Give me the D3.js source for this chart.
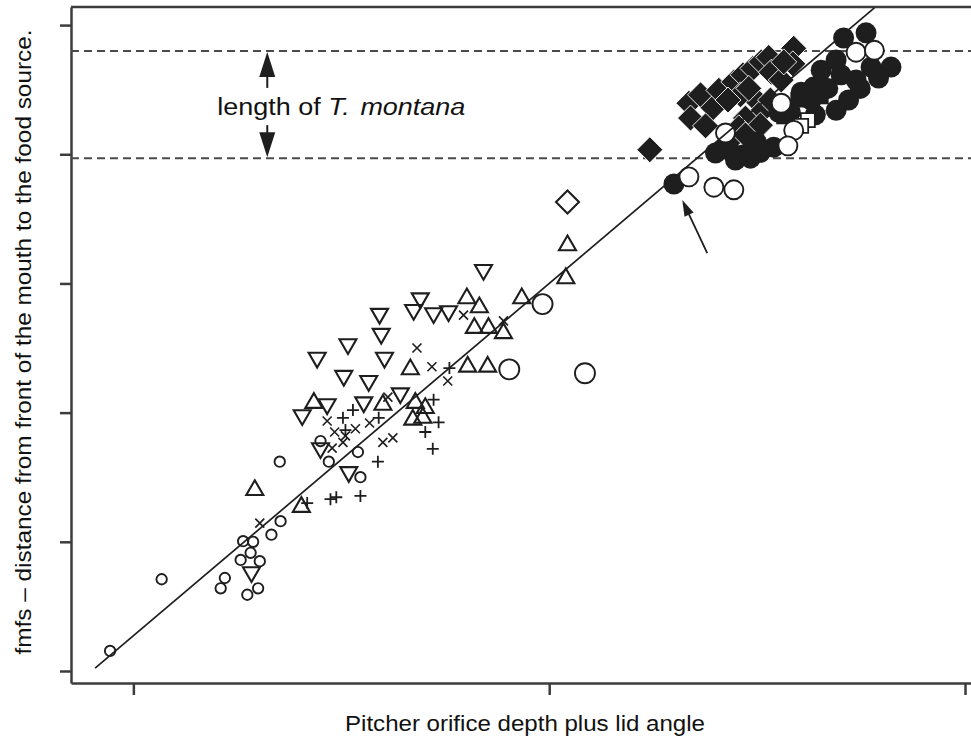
<!DOCTYPE html>
<html>
<head>
<meta charset="utf-8">
<script src="https://cdn.jsdelivr.net/npm/d3@7"></script>
<style>
  body { margin: 0; background: #fff; }
  svg { display: block; }
  text { font-family: "Liberation Sans", Arial, sans-serif; fill: #111; }
</style>
</head>
<body>
<svg id="canvas" width="971" height="737"></svg>
<script>
// axis ticks (no labels on the original)
const xTicks = [0, 50, 100]
const yTicks = [0, 20, 40, 60, 80, 100]

// dashed band = body length of T. montana
const lengthBand = [79.4, 96.0]

// fitted line y = a + b*x
const fitA = 5.45
const fitB = 1.091
const fitRange = [-4.6, 89.1]

// series, [x, y]
const smallOpenCircles = [
  [-2.8, 3.1], [3.4, 14.2], [10.5, 12.8], [11.0, 14.4], [13.7, 11.8], [15.0, 12.8],
  [13.2, 20.1], [14.4, 20.0], [12.9, 17.2], [14.1, 18.3], [15.2, 17.0], [16.6, 21.1],
  [17.7, 23.2], [17.6, 32.4], [22.5, 35.6], [23.5, 32.4], [27.0, 33.9], [27.3, 30.0]
]
const triUp = [
  [14.6, 28.0], [20.2, 25.4], [21.7, 41.5], [30.0, 41.2], [33.3, 46.7], [33.9, 41.5],
  [35.1, 40.7], [33.6, 38.9], [34.8, 39.2], [40.2, 47.1], [42.6, 47.1], [40.1, 57.7],
  [41.6, 56.3], [41.0, 53.1], [42.7, 53.1], [44.5, 52.3], [46.7, 57.7], [52.0, 60.8],
  [52.2, 65.9]
]
const triDown = [
  [42.1, 62.1], [34.5, 57.7], [33.7, 55.9], [36.1, 55.4], [37.9, 55.7], [29.6, 55.3],
  [29.8, 52.2], [25.8, 50.6], [22.1, 48.5], [30.2, 48.5], [25.3, 45.7], [28.3, 44.9],
  [32.1, 43.0], [20.3, 39.6], [23.3, 41.3], [27.7, 41.6], [22.5, 34.5], [25.9, 30.8],
  [14.2, 15.3]
]
const crosses = [
  [15.2, 22.9], [39.7, 55.1], [44.5, 54.2], [34.1, 50.0], [35.9, 47.1], [37.8, 44.9],
  [30.6, 42.4], [23.3, 38.7], [24.2, 37.0], [26.7, 37.5], [28.4, 38.4], [25.2, 35.4],
  [23.9, 34.5], [30.0, 35.4], [31.2, 36.1], [25.5, 36.4]
]
const pluses = [
  [26.4, 40.4], [25.2, 39.2], [25.5, 37.3], [36.1, 42.0], [36.7, 38.5], [35.1, 37.0],
  [36.0, 34.4], [29.4, 32.4], [38.0, 46.9], [27.3, 27.1], [23.7, 26.6], [24.4, 26.9],
  [20.9, 26.0], [29.5, 39.2]
]
const bigOpenCircles = [
  [49.2, 56.8], [45.2, 46.7], [54.3, 46.1], [66.8, 76.5], [69.8, 74.9], [72.2, 74.5],
  [71.2, 83.3], [77.9, 87.9], [79.4, 83.7], [78.7, 81.3], [86.9, 95.8], [89.1, 96.1]
]
const openDiamonds = [[52.2, 72.6]]
const filledDiamonds = [
  [62.1, 80.7], [66.8, 87.9], [67.0, 85.6], [68.2, 89.2], [69.7, 87.2], [70.4, 89.9],
  [72.2, 91.2], [73.3, 92.3], [74.5, 93.3], [75.5, 94.3], [76.4, 95.0], [76.7, 92.7],
  [77.9, 91.5], [79.4, 96.4], [79.3, 94.0], [74.9, 88.4], [75.7, 86.8], [73.6, 85.6],
  [72.8, 84.1], [71.6, 81.9], [73.0, 89.2], [68.8, 84.4], [71.5, 88.4], [74.0, 90.2],
  [78.2, 94.3], [76.6, 88.4], [75.4, 84.5], [73.6, 83.0]
]
const filledCircles = [
  [65.0, 75.4], [70.0, 80.2], [71.6, 80.7], [73.3, 79.9], [74.9, 81.9], [77.0, 81.1],
  [77.6, 86.5], [80.3, 89.6], [81.8, 90.4], [83.5, 90.2], [85.1, 92.3], [86.0, 88.4],
  [84.5, 86.8], [88.7, 93.5], [91.1, 93.5], [85.4, 98.0], [88.1, 98.8], [86.9, 91.5],
  [82.7, 93.0], [84.5, 94.6], [81.5, 88.4], [75.4, 80.3], [79.0, 86.5], [82.0, 86.1],
  [87.4, 90.2], [89.6, 91.8], [72.4, 79.1], [74.2, 79.4]
]
const filledSquares = [[78.2, 85.8], [82.7, 88.9], [70.9, 80.7], [79.9, 88.4]]
const openSquares = [[81.1, 85.3], [80.3, 84.4], [70.9, 88.4]]

let canvas = d3.select('#canvas')

let x = d3.scaleLinear().domain([-7.5, 101.2]).range([71, 975])
let y = d3.scaleLinear().domain([-1.86, 102.8]).range([683, 7])

const axisColor = '#3c3c3c'
const ink = '#1e1e1e'

// frame: top line
canvas.append('line')
    .attr('x1', x(-7.5)).attr('x2', x(101.2))
    .attr('y1', y(102.8)).attr('y2', y(102.8))
    .attr('stroke', axisColor).attr('stroke-width', 2.5)

let yAxis = canvas.append('g')
    .attr('transform', 'translate(' + x(-7.5) + ',0)')
    .call(d3.axisLeft(y).tickValues(yTicks).tickFormat('').tickSize(11).tickSizeOuter(0))
let xAxis = canvas.append('g')
    .attr('transform', 'translate(0,' + y(-1.86) + ')')
    .call(d3.axisBottom(x).tickValues(xTicks).tickFormat('').tickSize(12).tickSizeOuter(0))
canvas.selectAll('.domain, .tick line')
    .attr('stroke', axisColor).attr('stroke-width', 2.5)

// dashed band lines
canvas.selectAll('line.band')
    .data(lengthBand)
    .enter()
    .append('line')
    .attr('class', 'band')
    .attr('x1', x(-7.5)).attr('x2', x(101.2))
    .attr('y1', d => y(d)).attr('y2', d => y(d))
    .attr('stroke', '#4a4a4a').attr('stroke-width', 2)
    .attr('stroke-dasharray', '8,5')

// marker shapes
function triPath(s, down) {
    let h = s * 0.866
    let k = down ? -1 : 1
    return 'M0,' + (-k * 2 * h / 3) + 'L' + (s / 2) + ',' + (k * h / 3) + 'L' + (-s / 2) + ',' + (k * h / 3) + 'Z'
}
function diamondPath(r) {
    return 'M0,' + (-r) + 'L' + r + ',0L0,' + r + 'L' + (-r) + ',0Z'
}
function squarePath(s) {
    return 'M' + (-s / 2) + ',' + (-s / 2) + 'h' + s + 'v' + s + 'h' + (-s) + 'Z'
}
function crossPath(a) {
    return 'M' + (-a) + ',' + (-a) + 'L' + a + ',' + a + 'M' + (-a) + ',' + a + 'L' + a + ',' + (-a)
}
function plusPath(a) {
    return 'M' + (-a) + ',0L' + a + ',0M0,' + (-a) + 'L0,' + a
}

function drawPaths(data, d, fill, stroke, sw) {
    canvas.append('g')
        .selectAll('path')
        .data(data)
        .enter()
        .append('path')
        .attr('transform', p => 'translate(' + x(p[0]) + ',' + y(p[1]) + ')')
        .attr('d', d)
        .attr('fill', fill)
        .attr('stroke', stroke)
        .attr('stroke-width', sw)
}
function drawCircles(data, r, fill, stroke, sw) {
    canvas.append('g')
        .selectAll('circle')
        .data(data)
        .enter()
        .append('circle')
        .attr('cx', p => x(p[0]))
        .attr('cy', p => y(p[1]))
        .attr('r', r)
        .attr('fill', fill)
        .attr('stroke', stroke)
        .attr('stroke-width', sw)
}

drawCircles(smallOpenCircles, 5.2, 'none', ink, 1.9)
drawPaths(triUp, triPath(17, false), 'none', ink, 2.1)
drawPaths(triDown, triPath(17, true), 'none', ink, 2.1)
drawPaths(crosses, crossPath(4.5), 'none', ink, 1.6)
drawPaths(pluses, plusPath(6), 'none', ink, 1.8)
drawCircles(bigOpenCircles.slice(0, 3), 10, 'none', ink, 1.9)
drawPaths(openDiamonds, diamondPath(11.5), 'none', ink, 2.1)

// upper cluster (one open square sits under the diamonds)
drawPaths(openSquares.slice(2), squarePath(14), '#fff', ink, 1.8)
drawPaths(filledDiamonds, diamondPath(13), ink, '#fff', 0.9)
drawCircles(filledCircles, 10.5, ink, 'none', 0)
drawPaths(filledSquares, squarePath(15), ink, 'none', 0)
drawPaths(openSquares.slice(0, 2), squarePath(14), '#fff', ink, 1.8)
drawCircles(bigOpenCircles.slice(3), 9.5, '#fff', ink, 1.9)

// regression line
canvas.append('line')
    .attr('x1', x(fitRange[0])).attr('y1', y(fitA + fitB * fitRange[0]))
    .attr('x2', x(fitRange[1])).attr('y2', y(fitA + fitB * fitRange[1]))
    .attr('stroke', ink).attr('stroke-width', 1.7)

// double arrow for the length band
let arrowX = x(16.1)
let headW = 8, headL = 25
canvas.append('line')
    .attr('x1', arrowX).attr('x2', arrowX)
    .attr('y1', y(lengthBand[1]) + 20).attr('y2', y(lengthBand[1]) + 37)
    .attr('stroke', ink).attr('stroke-width', 2)
canvas.append('line')
    .attr('x1', arrowX).attr('x2', arrowX)
    .attr('y1', y(lengthBand[0]) - 20).attr('y2', y(lengthBand[0]) - 33)
    .attr('stroke', ink).attr('stroke-width', 2)
canvas.append('path')
    .attr('d', 'M' + arrowX + ',' + (y(lengthBand[1]) + 1) + 'l' + headW + ',' + headL + 'h' + (-2 * headW) + 'Z')
    .attr('fill', ink)
canvas.append('path')
    .attr('d', 'M' + arrowX + ',' + (y(lengthBand[0]) - 1) + 'l' + headW + ',' + (-headL) + 'h' + (-2 * headW) + 'Z')
    .attr('fill', ink)

let label = canvas.append('text')
    .attr('x', x(10.1))
    .attr('y', y(86.1))
    .attr('font-size', 23)
    .attr('textLength', 248)
    .attr('lengthAdjust', 'spacingAndGlyphs')
label.append('tspan').text('length of ')
label.append('tspan').attr('font-style', 'italic').text('T.')
label.append('tspan').attr('font-style', 'italic').attr('dx', 9).text('montana')

// pointer arrow to the filled circle
let tail = [x(69.0), y(64.7)]
let tip = [x(66.0), y(72.9)]
let ang = Math.atan2(tip[1] - tail[1], tip[0] - tail[0])
canvas.append('line')
    .attr('x1', tail[0]).attr('y1', tail[1])
    .attr('x2', tip[0] - 10 * Math.cos(ang)).attr('y2', tip[1] - 10 * Math.sin(ang))
    .attr('stroke', ink).attr('stroke-width', 1.8)
let bx = tip[0] - 16 * Math.cos(ang), by = tip[1] - 16 * Math.sin(ang)
canvas.append('path')
    .attr('d', 'M' + tip[0] + ',' + tip[1]
        + 'L' + (bx + 5 * Math.sin(ang)) + ',' + (by - 5 * Math.cos(ang))
        + 'L' + (bx - 5 * Math.sin(ang)) + ',' + (by + 5 * Math.cos(ang)) + 'Z')
    .attr('fill', ink)

// axis titles
canvas.append('text')
    .attr('x', 525)
    .attr('y', 731)
    .attr('text-anchor', 'middle')
    .attr('font-size', 22)
    .attr('textLength', 360)
    .attr('lengthAdjust', 'spacingAndGlyphs')
    .text('Pitcher orifice depth plus lid angle')

canvas.append('text')
    .attr('transform', 'translate(31,342) rotate(-90)')
    .attr('text-anchor', 'middle')
    .attr('font-size', 22)
    .attr('textLength', 625)
    .attr('lengthAdjust', 'spacingAndGlyphs')
    .text('fmfs \u2013 distance from front of the mouth to the food source.')
</script>
</body>
</html>
